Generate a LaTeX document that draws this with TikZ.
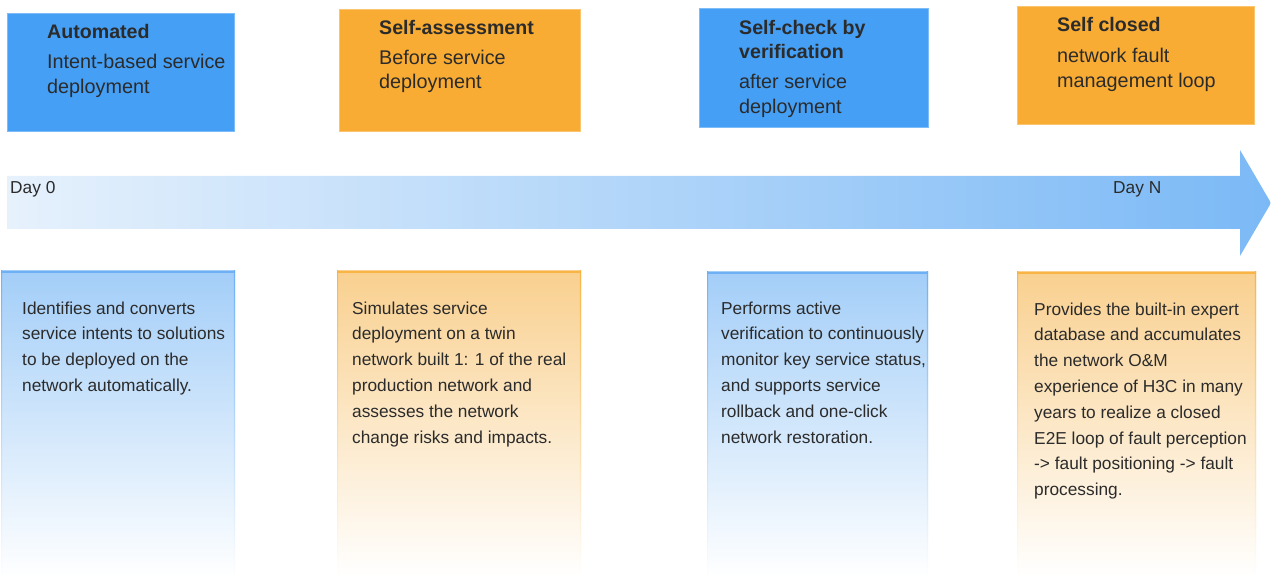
\documentclass[tikz,border=0pt]{standalone}
\usepackage{fontspec}
\setmainfont{Liberation Sans}
\begin{document}
\definecolor{boxblue}{HTML}{459FF5}
\definecolor{boxorange}{HTML}{F9AC33}
\definecolor{ink}{HTML}{2B2B2B}
\definecolor{paneblue}{HTML}{A3CEF8}
\definecolor{paneblueedge}{HTML}{6FB0F5}
\definecolor{paneorange}{HTML}{F9D08F}
\definecolor{paneorangeedge}{HTML}{F8B545}
\definecolor{arrowlight}{HTML}{E6F1FC}
\definecolor{arrowdark}{HTML}{7BB9F6}
% multi-line nodes are anchored at the baseline of their last line
\begin{tikzpicture}[x=1pt,y=-1pt,
  headbox/.style={fill=#1, draw=#1!70!white, line width=0.6pt},
  headtitle/.style={anchor=base west, inner sep=0pt, text=ink, align=left,
    font=\fontsize{19.6}{24}\selectfont\bfseries},
  headtext/.style={anchor=base west, inner sep=0pt, text=ink, align=left,
    font=\fontsize{19.8}{24.5}\selectfont},
  panetext/.style={anchor=base west, inner sep=0pt, text=ink, align=left,
    font=\fontsize{17.3}{25.8}\selectfont},
  daylabel/.style={anchor=base west, inner sep=0pt, text=ink,
    font=\fontsize{17.3}{18}\selectfont}]
\useasboundingbox (0,0) rectangle (1271,577);

% ---- header boxes ----
\path[headbox=boxblue]   (7,13)    rectangle (234,131);
\path[headbox=boxorange] (339,9)   rectangle (580,131);
\path[headbox=boxblue]   (699,8)   rectangle (928,127);
\path[headbox=boxorange] (1017,6)  rectangle (1254,124);

\node[headtitle] (t1) at (47,39)    {Automated};
\node[headtext]  (b1) at (47,93.5)  {Intent-based service\\deployment};
\node[headtitle] (t2) at (379,35)   {Self-assessment};
\node[headtext]  (b2) at (379,89)   {Before service\\deployment};
\node[headtitle] (t3) at (739,59)   {Self-check by\\verification};
\node[headtext]  (b3) at (739,113.5){after service\\deployment};
\node[headtitle] (t4) at (1057,32)  {Self closed};
\node[headtext]  (b4) at (1057,87.5){network fault\\management loop};

% ---- timeline arrow ----
\shade[left color=arrowlight, right color=arrowdark]
  (7,176) -- (1240,176) -- (1240,150) -- (1271,203) -- (1240,256)
  -- (1240,229) -- (7,229) -- cycle;
\node[daylabel] (d0) at (10,194)   {Day 0};
\node[daylabel] (dn) at (1113,194) {Day N};

% ---- description panels ----
\newcommand{\pane}[5]{%
  \shade[top color=#4, bottom color=white] (#1,#3) rectangle (#2,577);
  \shade[top color=#5, bottom color=white] (#1,#3) rectangle ({#1+1.2},577);
  \shade[top color=#5, bottom color=white] ({#2-1.2},#3) rectangle (#2,577);
  \fill[#5] (#1,#3) rectangle (#2,{#3+1.6});
}
\pane{1}{235}{271}{paneblue}{paneblueedge}
\pane{337}{581}{271}{paneorange}{paneorangeedge}
\pane{707}{928}{272}{paneblue}{paneblueedge}
\pane{1017}{1256}{272}{paneorange}{paneorangeedge}

\node[panetext] (p1) at (22,391.4) {Identifies and converts\\service intents to solutions\\to be deployed on the\\network automatically.};
\node[panetext] (p2) at (352,443) {Simulates service\\deployment on a twin\\network built 1: 1 of the real\\production network and\\assesses the network\\change risks and impacts.};
\node[panetext] (p3) at (721,443) {Performs active\\verification to continuously\\monitor key service status,\\and supports service\\rollback and one-click\\network restoration.};
\node[panetext] (p4) at (1034,495.6) {Provides the built-in expert\\database and accumulates\\the network O\&M\\experience of H3C in many\\years to realize a closed\\E2E loop of fault perception\\-> fault positioning -> fault\\processing.};
\end{tikzpicture}
\end{document}
